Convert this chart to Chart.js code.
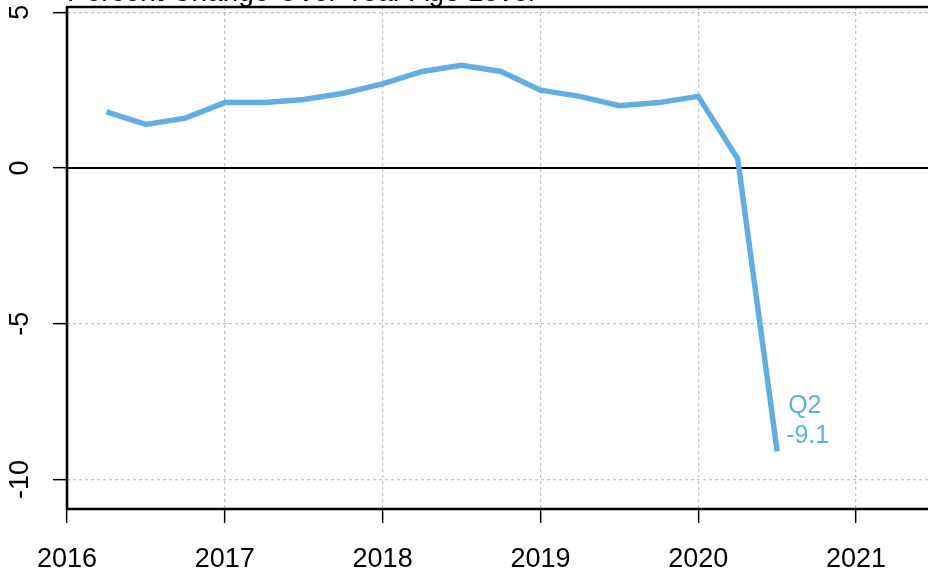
<!DOCTYPE html>
<html>
<head>
<meta charset="utf-8">
<script src="https://cdn.jsdelivr.net/npm/chart.js@4.4.1/dist/chart.umd.min.js"></script>
<style>
html, body { margin: 0; padding: 0; overflow: hidden; background: #fff; }
#wrap { width: 940px; height: 572px; }
</style>
</head>
<body>
<div id="wrap"><canvas id="myChart" width="940" height="572"></canvas></div>
<script>
// quarterly data, year fractions
const quarters = [2016.25, 2016.5, 2016.75, 2017.0, 2017.25, 2017.5, 2017.75, 2018.0, 2018.25,
                  2018.5, 2018.75, 2019.0, 2019.25, 2019.5, 2019.75, 2020.0, 2020.25, 2020.5];
const growth = [1.8, 1.4, 1.6, 2.1, 2.1, 2.2, 2.4, 2.7, 3.1,
                3.3, 3.1, 2.5, 2.3, 2.0, 2.1, 2.3, 0.3, -9.1];
const xTicks = [2016, 2017, 2018, 2019, 2020, 2021];
const yTicks = [5, 0, -5, -10];
const title = 'Percent Change Over Year Ago Level';
const lastLabel = 'Q2';

const lineColor = '#62aee1';
const fontFamily = '"Liberation Sans", Arial, sans-serif';

const extras = {
    id: 'extras',
    beforeDatasetsDraw(chart) {
        const {ctx, chartArea: a, scales: {y}} = chart;
        ctx.save();
        // zero line
        const y0 = y.getPixelForValue(0);
        ctx.strokeStyle = '#000';
        ctx.lineWidth = 2;
        ctx.beginPath();
        ctx.moveTo(a.left, y0);
        ctx.lineTo(a.right, y0);
        ctx.stroke();
        // box (right side is off the page)
        ctx.lineWidth = 2.6;
        ctx.beginPath();
        ctx.moveTo(a.right + 5, a.top);
        ctx.lineTo(a.left, a.top);
        ctx.lineTo(a.left, a.bottom);
        ctx.lineTo(a.right + 5, a.bottom);
        ctx.stroke();
        ctx.restore();
    },
    afterDraw(chart) {
        const {ctx, chartArea: a, scales: {x, y}} = chart;
        ctx.save();
        ctx.fillStyle = '#000';
        ctx.font = '27px ' + fontFamily;
        ctx.textAlign = 'center';
        ctx.textBaseline = 'alphabetic';
        yTicks.forEach(v => {
            ctx.save();
            ctx.translate(28, y.getPixelForValue(v));
            ctx.rotate(-Math.PI / 2);
            ctx.fillText(String(v), 0, 0);
            ctx.restore();
        });
        // title, mostly cut off at the top
        ctx.textAlign = 'left';
        ctx.font = '28px ' + fontFamily;
        ctx.fillText(title, a.left, 1);
        // label on the last point
        const n = growth.length - 1;
        const px = x.getPixelForValue(quarters[n]);
        const py = y.getPixelForValue(growth[n]);
        ctx.fillStyle = lineColor;
        ctx.font = '25px ' + fontFamily;
        ctx.fillText(lastLabel, px + 11, py - 38);
        ctx.fillText(growth[n].toFixed(1), px + 9, py - 8);
        ctx.restore();
    }
};

const ctx = document.getElementById('myChart').getContext('2d');
const myChart = new Chart(ctx, {
    type: 'line',
    data: {
        datasets: [{
            data: quarters.map((q, i) => ({x: q, y: growth[i]})),
            borderColor: lineColor,
            borderWidth: 5.5,
            pointRadius: 0,
            tension: 0,
            fill: false
        }]
    },
    options: {
        responsive: false,
        animation: false,
        layout: {padding: {top: 7, right: 0, left: 0, bottom: 0}},
        plugins: {legend: {display: false}, tooltip: {enabled: false}},
        scales: {
            x: {
                type: 'linear',
                min: 2016,
                max: 2021.532,
                afterBuildTicks: s => { s.ticks = xTicks.map(v => ({value: v})); },
                afterFit: s => { s.height = 63; },
                ticks: {
                    color: '#000',
                    padding: 20,
                    maxRotation: 0,
                    font: {family: fontFamily, size: 27},
                    callback: v => String(v)
                },
                grid: {
                    color: '#c4c4c4',
                    lineWidth: 1.3,
                    tickLength: 14,
                    tickColor: '#000',
                    tickWidth: 1.5,
                    tickBorderDash: []
                },
                border: {display: false, dash: [3, 3]}
            },
            y: {
                min: -10.95,
                max: 5.17,
                afterBuildTicks: s => { s.ticks = yTicks.map(v => ({value: v})); },
                afterFit: s => { s.width = 67; },
                ticks: {display: false},
                grid: {
                    color: '#c4c4c4',
                    lineWidth: 1.3,
                    tickLength: 14,
                    tickColor: '#000',
                    tickWidth: 1.5,
                    tickBorderDash: []
                },
                border: {display: false, dash: [3, 3]}
            }
        }
    },
    plugins: [extras]
});
</script>
</body>
</html>
